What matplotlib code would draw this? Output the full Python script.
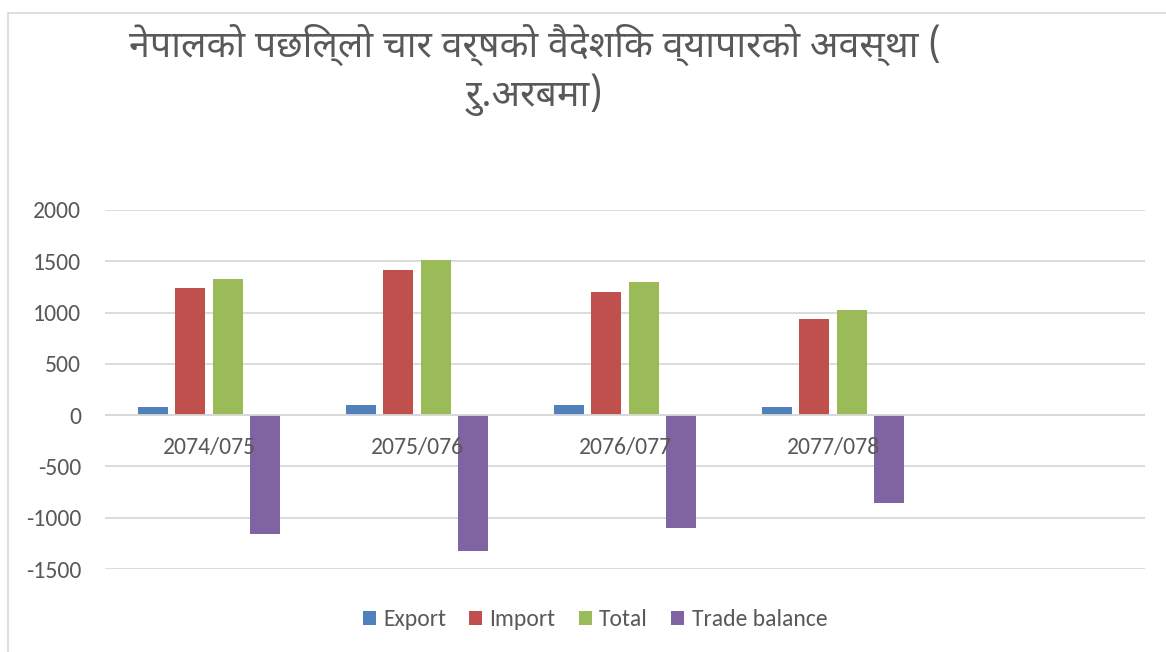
import matplotlib
matplotlib.use("Agg")
import numpy as np
import matplotlib.pyplot as plt
from matplotlib import font_manager
from matplotlib.patches import Rectangle

# वैदेशिक व्यापार (रु. अरबमा)
years = ["2074/075", "2075/076", "2076/077", "2077/078"]
export = [81, 97, 98, 81]
imports = [1243, 1418, 1197, 942]
total = [1324, 1515, 1295, 1023]
trade_balance = [-1161, -1321, -1099, -861]

series = [("Export", export, "#4f81bd"),
          ("Import", imports, "#c0504d"),
          ("Total", total, "#9bbb59"),
          ("Trade balance", trade_balance, "#8064a2")]

available = {f.name for f in font_manager.fontManager.ttflist}
deva_font = next((f for f in ["Noto Sans Devanagari", "Hind", "Mukta", "Annapurna SIL", "Akshar"]
                  if f in available), "DejaVu Sans")
latin_font = next((f for f in ["Carlito", "Open Sans", "Noto Sans"] if f in available), "DejaVu Sans")
plt.rcParams["font.family"] = [latin_font, "DejaVu Sans"]
plt.rcParams["axes.unicode_minus"] = False

text_color = "#595959"
grid_color = "#d9d9d9"

fig = plt.figure(figsize=(11.66, 6.52), dpi=100)
fig.patches.append(Rectangle((8 / 1166, -0.1), 1.2, 1 - 13 / 652 + 0.1, transform=fig.transFigure,
                             fill=False, edgecolor="#d9d9d9", linewidth=1.2))

ax = fig.add_axes([105 / 1166, 1 - 569 / 652, (1145 - 105) / 1166, (569 - 210) / 652])

x = np.arange(len(years))
width = 0.145
step = 0.18
for i, (name, vals, color) in enumerate(series):
    ax.bar(x + (i - 1.5) * step, vals, width, color=color, label=name, zorder=3)

ax.set_xlim(-0.5, 4.5)
ax.set_ylim(-1500, 2000)
ax.set_yticks(np.arange(-1500, 2001, 500))
ax.yaxis.grid(True, color=grid_color, linewidth=1.3, zorder=0)
ax.axhline(0, color=grid_color, linewidth=1.3, zorder=4)
for s in ax.spines.values():
    s.set_visible(False)
ax.tick_params(axis="y", length=0, labelsize=17, labelcolor=text_color, pad=17)
ax.set_xticks([])

# वर्गका नामहरू शून्य रेखाको ठीक तल
for xi, yr in zip(x, years):
    ax.annotate(yr, (xi, 0), xytext=(0, -23), textcoords="offset points", ha="center",
                va="center", fontsize=17, color=text_color, zorder=5)

fig.text(535 / 1166, 1 - 45 / 652, "नेपालको पछिल्लो चार वर्षको वैदेशिक व्यापारको अवस्था (",
         ha="center", va="center", fontsize=27, color=text_color, family=deva_font,
         fontweight="bold")
fig.text(535 / 1166, 1 - 95 / 652, "रु.अरबमा)", ha="center", va="center", fontsize=27,
         color=text_color, family=deva_font, fontweight="bold")

fig.legend(loc="center", bbox_to_anchor=(595 / 1166, 1 - 620 / 652), ncol=4, frameon=False,
           fontsize=17, labelcolor=text_color, handlelength=0.55, handleheight=0.55,
           handletextpad=0.3, columnspacing=1.0)

fig.savefig("out.png", dpi=100)
